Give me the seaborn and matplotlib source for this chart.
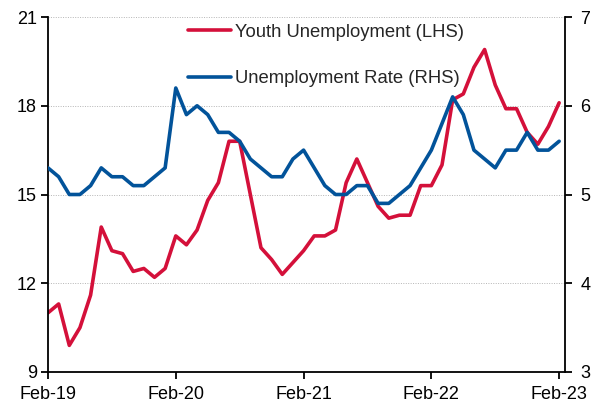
import matplotlib
matplotlib.use("Agg")
import matplotlib.pyplot as plt
import seaborn as sns
import pandas as pd
import numpy as np

months = pd.date_range("2019-02-01", "2023-02-01", freq="MS")
youth = [11.0, 11.3, 9.9, 10.5, 11.6, 13.9, 13.1, 13.0, 12.4, 12.5, 12.2, 12.5,
         13.6, 13.3, 13.8, 14.8, 15.4, 16.8, 16.8, 15.0, 13.2, 12.8, 12.3, 12.7,
         13.1, 13.6, 13.6, 13.8, 15.4, 16.2, 15.4, 14.6, 14.2, 14.3, 14.3, 15.3,
         15.3, 16.0, 18.2, 18.4, 19.3, 19.9, 18.7, 17.9, 17.9, 17.1, 16.7, 17.3, 18.1]
urate = [5.3, 5.2, 5.0, 5.0, 5.1, 5.3, 5.2, 5.2, 5.1, 5.1, 5.2, 5.3,
         6.2, 5.9, 6.0, 5.9, 5.7, 5.7, 5.6, 5.4, 5.3, 5.2, 5.2, 5.4,
         5.5, 5.3, 5.1, 5.0, 5.0, 5.1, 5.1, 4.9, 4.9, 5.0, 5.1, 5.3,
         5.5, 5.8, 6.1, 5.9, 5.5, 5.4, 5.3, 5.5, 5.5, 5.7, 5.5, 5.5, 5.6]
tick_labels = ["Feb-19", "Feb-20", "Feb-21", "Feb-22", "Feb-23"]
left_ticks = [9, 12, 15, 18, 21]
right_ticks = [3, 4, 5, 6, 7]

df = pd.DataFrame({"idx": np.arange(len(months)), "youth": youth, "urate": urate})

sns.set_style("white")
plt.rcParams["font.family"] = ["Liberation Sans", "DejaVu Sans"]

RED = "#D4103A"
BLUE = "#02539A"

fig = plt.figure(figsize=(5.91, 4.08), dpi=100)
ax = fig.add_axes([48/591, 1-372/408, (565-48)/591, (372-17)/408])
ax2 = ax.twinx()

sns.lineplot(data=df, x="idx", y="youth", ax=ax, color=RED, lw=2.6, label="Youth Unemployment (LHS)", legend=False)
sns.lineplot(data=df, x="idx", y="urate", ax=ax2, color=BLUE, lw=2.6, label="Unemployment Rate (RHS)", legend=False)

ax.set_xlim(0, 48.55)
ax.set_ylim(9, 21)
ax2.set_ylim(3, 7)
ax.set_yticks(left_ticks)
ax2.set_yticks(right_ticks)
ax.set_xticks([0, 12, 24, 36, 48])
ax.set_xticklabels(tick_labels)
ax.set_xlabel("")
ax.set_ylabel("")
ax2.set_ylabel("")

for a in (ax, ax2):
    a.spines["top"].set_visible(False)
    for s in a.spines.values():
        s.set_linewidth(1.3)
        s.set_color("black")
ax.spines["right"].set_visible(False)
ax2.spines["left"].set_visible(False)
ax2.spines["bottom"].set_visible(False)

ax.grid(axis="y", color="#B5B5B5", linestyle=(0, (1, 1.5)), linewidth=0.7)
ax.set_axisbelow(True)

ax.tick_params(axis="both", direction="out", length=5, width=1.3, labelsize=13, colors="black", pad=3)
ax.tick_params(axis="x", pad=5)
ax.tick_params(axis="y", left=True)
ax.tick_params(axis="x", bottom=True)
ax2.tick_params(axis="y", direction="out", length=5, width=1.3, labelsize=13, colors="black", right=True, pad=6)

h1, l1 = ax.get_legend_handles_labels()
h2, l2 = ax2.get_legend_handles_labels()
leg = ax2.legend(h1 + h2, l1 + l2, loc="upper left", bbox_to_anchor=(0.25, 1.012), frameon=False,
                 fontsize=13.3, handlelength=2.3, handletextpad=0.2, labelspacing=1.6, borderaxespad=0.2)

fig.savefig("out.png", dpi=100)
